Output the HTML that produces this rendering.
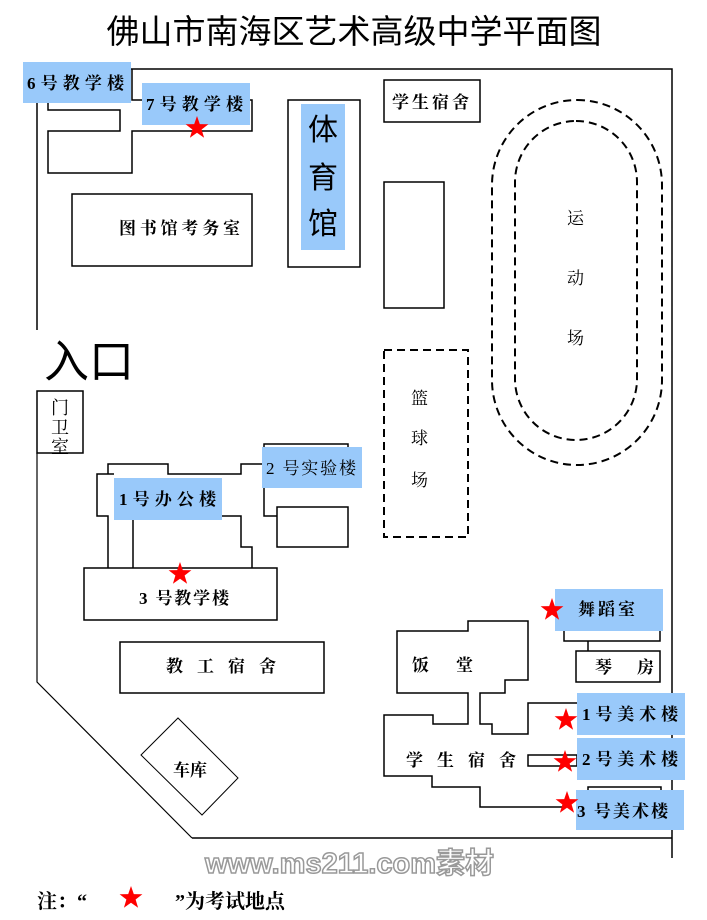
<!DOCTYPE html>
<html><head><meta charset="utf-8"><style>
html,body{margin:0;padding:0;background:#fff;width:707px;height:920px;overflow:hidden}
svg text{font-family:"Liberation Serif","Noto Serif CJK SC",serif;font-weight:bold;fill:#000}
</style></head><body>
<svg width="707" height="920" viewBox="0 0 707 920" xmlns="http://www.w3.org/2000/svg">
<defs><polygon id="st" points="0,-12 2.8,-3.9 11.4,-3.7 4.6,1.5 7.1,9.7 0,4.8 -7.1,9.7 -4.6,1.5 -11.4,-3.7 -2.8,-3.9" fill="#f00"/></defs>
<text x="354" y="43" font-size="33" text-anchor="middle" style="font-family:'Liberation Sans','Noto Sans CJK SC',sans-serif;font-weight:normal">佛山市南海区艺术高级中学平面图</text>
<g fill="none" stroke="#000" stroke-width="1.5">
<polyline points="131,69 672,69 672,858"/>
<line x1="192" y1="838" x2="672" y2="838"/>
<polyline points="37,453 37,682 192,838" stroke-width="1.2"/>
<line x1="37" y1="97" x2="37" y2="330"/>
<rect x="37" y="391" width="46" height="62"/>
<polyline points="132,69 132,100 142,100"/>
<polyline points="250,100 252,100 252,131 132,131 132,173 48,173 48,131 120,131 120,110 48,110 48,103"/>
<rect x="72" y="194" width="180" height="72"/>
<rect x="288" y="100" width="72" height="167"/>
<rect x="384" y="80" width="96" height="42"/>
<rect x="384" y="182" width="60" height="126"/>
<polyline points="114,474 97,474 97,516 108,516 108,568"/>
<polyline points="108,474 108,464 168,464 168,474 241,474 241,464 262,464"/>
<polyline points="133,520 133,568"/>
<polyline points="222,516 241,516 241,547 252,547 252,568"/>
<rect x="84" y="568" width="193" height="52"/>
<polyline points="264,447 264,444 348,444 348,447"/>
<polyline points="264,488 264,516 277,516"/>
<rect x="277" y="507" width="71" height="40"/>
<rect x="120" y="642" width="204" height="51"/>
<polygon points="141,755 178,718 238,778 202,815" stroke-width="1"/>
<polyline points="577,703 528,703 528,734 492,734 492,724 480,724 480,693 505,693 505,680 528,680 528,621 468,621 468,631 397,631 397,693 468,693 468,724 433,724 433,715 384,715 384,776 432,776 432,787 480,787 480,807 563,807"/>
<rect x="528" y="755" width="49" height="11"/>
<polyline points="588,790 588,787 661,787 661,790"/>
<polyline points="564,631 564,641 660,641 660,631"/>
<polyline points="588,641 588,651"/>
<rect x="576" y="651" width="84" height="31"/>
</g>
<g fill="none" stroke="#000" stroke-width="2" stroke-dasharray="8,5">
<rect x="492" y="100" width="170" height="365" rx="85"/>
<rect x="515" y="121" width="122" height="319" rx="61"/>
<rect x="384" y="350" width="84" height="187"/>
</g>
<g fill="#99c9fa">
<rect x="23" y="62" width="108" height="41"/>
<rect x="142" y="83" width="108" height="42"/>
<rect x="301" y="104" width="44" height="146"/>
<rect x="114" y="478" width="108" height="42"/>
<rect x="262" y="447" width="100" height="41"/>
<rect x="555" y="589" width="108" height="42"/>
<rect x="577" y="693" width="108" height="42"/>
<rect x="577" y="738" width="108" height="42"/>
<rect x="576" y="790" width="108" height="40"/>
</g>
<g font-size="17" lengthAdjust="spacing">
<text x="27" y="89" textLength="97" lengthAdjust="spacing">6 号 教 学 楼</text>
<text x="146" y="110" textLength="97" lengthAdjust="spacing">7 号 教 学 楼</text>
<text x="119" y="234" textLength="121" lengthAdjust="spacing">图书馆考务室</text>
<text x="392" y="108" textLength="77" lengthAdjust="spacing">学生宿舍</text>
<text x="119" y="505" textLength="97" lengthAdjust="spacing">1 号 办 公 楼</text>
<text x="266" y="474" textLength="90" lengthAdjust="spacing" style="font-weight:normal">2 号实验楼</text>
<text x="139" y="604" textLength="90" lengthAdjust="spacing">3 号教学楼</text>
<text x="166" y="672" textLength="110" lengthAdjust="spacing">教工宿舍</text>
<text x="173" y="776">车库</text>
<text x="412" y="671">饭</text><text x="456" y="671">堂</text>
<text x="406" y="766" textLength="110" lengthAdjust="spacing">学生宿舍</text>
<text x="578" y="615" textLength="57" lengthAdjust="spacing">舞蹈室</text>
<text x="595" y="673">琴</text><text x="637" y="673">房</text>
<text x="582" y="720" textLength="96" lengthAdjust="spacing">1 号 美 术 楼</text>
<text x="582" y="765" textLength="96" lengthAdjust="spacing">2 号 美 术 楼</text>
<text x="577" y="817" textLength="91" lengthAdjust="spacing">3 号美术楼</text>
<text x="567" y="224" style="font-weight:normal">运</text>
<text x="567" y="284" style="font-weight:normal">动</text>
<text x="567" y="344" style="font-weight:normal">场</text>
<text x="411" y="404" style="font-weight:normal">篮</text>
<text x="411" y="444" style="font-weight:normal">球</text>
<text x="411" y="486" style="font-weight:normal">场</text>
<text x="51" y="414" font-size="18" style="font-weight:normal">门</text>
<text x="51" y="434" font-size="18" style="font-weight:normal">卫</text>
<text x="51" y="453" font-size="18" style="font-weight:normal">室</text>
</g>
<g font-size="30">
<text x="308" y="140" style="font-weight:normal;font-family:'Liberation Sans','Noto Sans CJK SC',sans-serif">体</text>
<text x="308" y="188" style="font-weight:normal;font-family:'Liberation Sans','Noto Sans CJK SC',sans-serif">育</text>
<text x="308" y="234" style="font-weight:normal;font-family:'Liberation Sans','Noto Sans CJK SC',sans-serif">馆</text>
</g>
<text x="44" y="377" font-size="45" style="font-weight:normal;font-family:'Liberation Sans','Noto Sans CJK SC',sans-serif">入口</text>
<use href="#st" x="197" y="128"/><use href="#st" x="180" y="574"/>
<use href="#st" x="552" y="610"/><use href="#st" x="566" y="720"/>
<use href="#st" x="565" y="762"/><use href="#st" x="567" y="803"/>
<use href="#st" x="131" y="898"/>
<text x="205" y="873" font-size="29" style="fill:#fff;stroke:#999;stroke-width:1.5;font-family:'Liberation Sans','Noto Sans CJK SC',sans-serif">www.ms211.com素材</text>
<text x="37" y="908" font-size="20">注：“</text>
<text x="175" y="908" font-size="20">”为考试地点</text>
</svg>
</body></html>
